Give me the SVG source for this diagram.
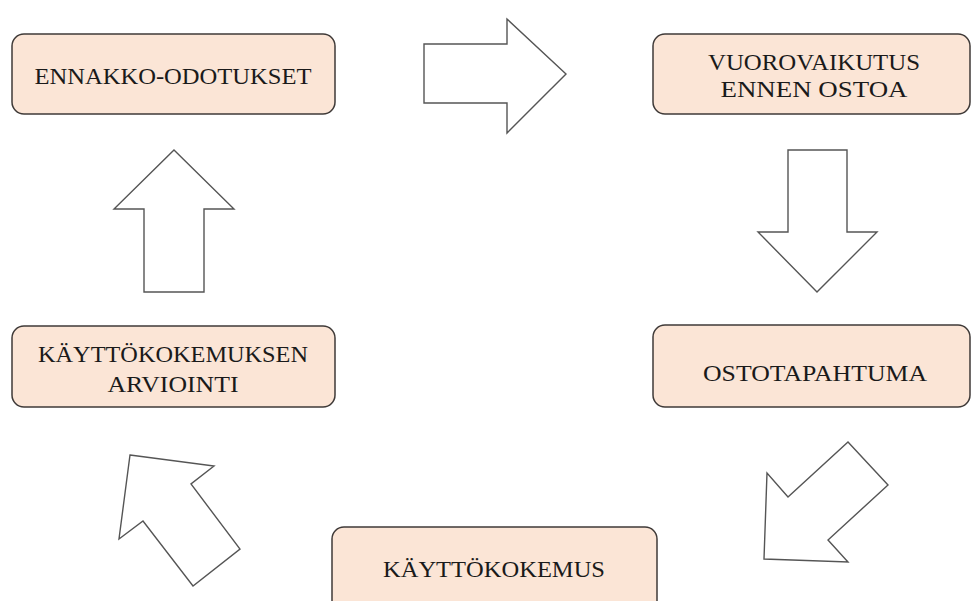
<svg xmlns="http://www.w3.org/2000/svg" width="972" height="601" viewBox="0 0 972 601">
<style>
.box{fill:#fbe5d6;stroke:#3f3a38;stroke-width:1.5}
.lbl{font-family:"Liberation Serif","DejaVu Serif",serif;font-size:23px;fill:#1a1a1a;text-anchor:middle}
.arr{fill:#ffffff;stroke:#555555;stroke-width:1.4;stroke-linejoin:miter}
</style>
<rect width="972" height="601" fill="#ffffff"/>
<g id="connectors">
<polygon class="arr" points="424,44 507,44 507,19 566,74 507,133 507,103 424,103"/>
<polygon class="arr" points="788,150 847,150 847,232 877,232 817,292 758,232 788,232"/>
<polygon class="arr" points="848,442 888,485 828,540 848,562 764,559 767,473 788,497"/>
<polygon class="arr" points="130,455 214,466 191,484 240,549 193,586 143,521 119,539"/>
<polygon class="arr" points="174,150 234,209 204,209 204,292 144,292 144,209 114,209"/>
</g>
<g id="node-ennakko">
<rect class="box" x="12" y="34" width="323" height="80" rx="12"/>
<text class="lbl" x="173" y="84" textLength="277" lengthAdjust="spacingAndGlyphs">ENNAKKO-ODOTUKSET</text>
</g>
<g id="node-vuorovaikutus">
<rect class="box" x="653" y="34" width="317" height="80" rx="12"/>
<text class="lbl" x="814" y="70" textLength="212" lengthAdjust="spacingAndGlyphs">VUOROVAIKUTUS</text>
<text class="lbl" x="814" y="97" textLength="187" lengthAdjust="spacingAndGlyphs">ENNEN OSTOA</text>
</g>
<g id="node-ostotapahtuma">
<rect class="box" x="653" y="325" width="317" height="82" rx="12"/>
<text class="lbl" x="815" y="381" textLength="224" lengthAdjust="spacingAndGlyphs">OSTOTAPAHTUMA</text>
</g>
<g id="node-kayttokokemus">
<rect class="box" x="332" y="527" width="325" height="90" rx="12"/>
<text class="lbl" x="494" y="577" textLength="222" lengthAdjust="spacingAndGlyphs">KÄYTTÖKOKEMUS</text>
</g>
<g id="node-arviointi">
<rect class="box" x="12" y="326" width="323" height="81" rx="12"/>
<text class="lbl" x="173" y="362" textLength="270" lengthAdjust="spacingAndGlyphs">KÄYTTÖKOKEMUKSEN</text>
<text class="lbl" x="173" y="392" textLength="131" lengthAdjust="spacingAndGlyphs">ARVIOINTI</text>
</g>
</svg>
